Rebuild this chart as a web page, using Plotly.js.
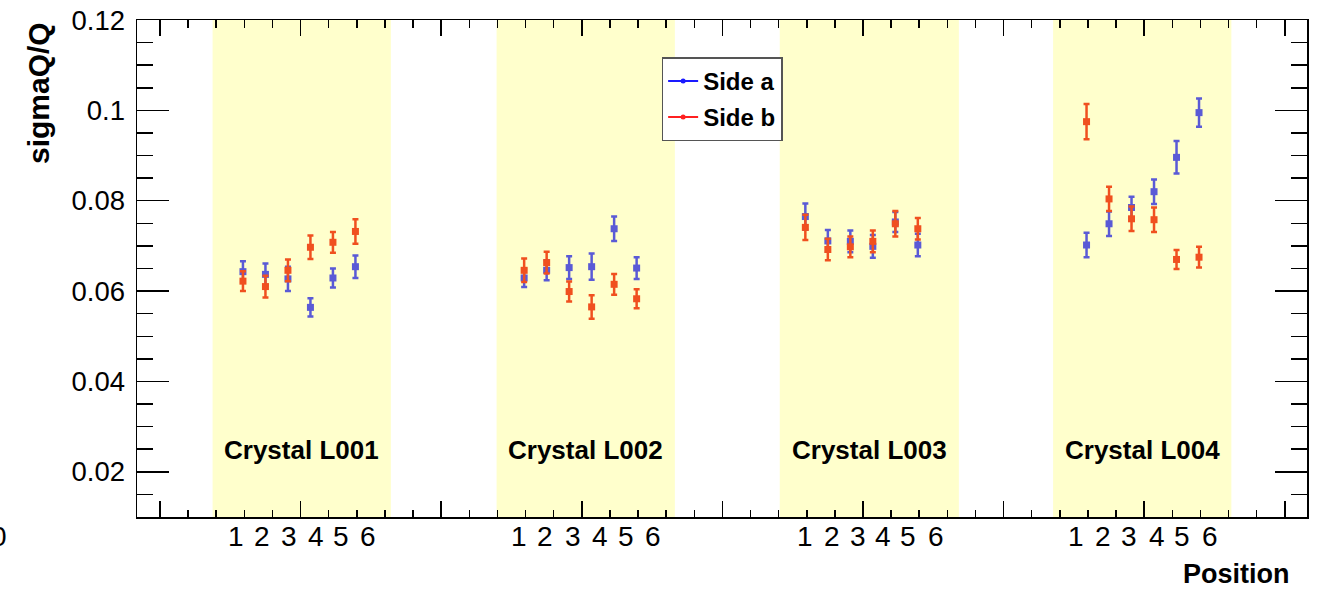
<!DOCTYPE html>
<html>
<head>
<meta charset="utf-8">
<script src="https://cdn.plot.ly/plotly-3.0.1.min.js"></script>
<style>
  html, body { margin: 0; padding: 0; background: #ffffff; }
  #chart { width: 1325px; height: 590px; }
</style>
</head>
<body>
<div id="chart"></div>
<script>
// Relative charge resolution per readout position, four crystals, two sides.
const crystalNames = ['Crystal L001', 'Crystal L002', 'Crystal L003', 'Crystal L004'];
const bandStart = [6.87, 16.97, 27.04, 36.76];
const bandEnd = [13.21, 23.31, 33.41, 43.10];

// x of every measured position (6 per crystal)
const stripX = [
  7.95, 8.75, 9.55, 10.35, 11.15, 11.95,
  17.95, 18.75, 19.55, 20.35, 21.15, 21.95,
  27.95, 28.75, 29.55, 30.35, 31.15, 31.95,
  37.95, 38.75, 39.55, 40.35, 41.15, 41.95
];

const sideA = [
  0.0643, 0.0637, 0.0627, 0.0564, 0.0629, 0.0654,
  0.0629, 0.0646, 0.0652, 0.0654, 0.0738, 0.0651,
  0.0765, 0.0711, 0.0710, 0.0699, 0.0753, 0.0702,
  0.0702, 0.0749, 0.0785, 0.0820, 0.0896, 0.0995
];
const sideAErr = [
  0.0023, 0.0024, 0.0027, 0.0020, 0.0021, 0.0025,
  0.0020, 0.0022, 0.0025, 0.0029, 0.0027, 0.0024,
  0.0029, 0.0024, 0.0024, 0.0025, 0.0022, 0.0025,
  0.0027, 0.0027, 0.0024, 0.0027, 0.0036, 0.0031
];
const sideB = [
  0.0622, 0.0610, 0.0646, 0.0697, 0.0708, 0.0732,
  0.0646, 0.0663, 0.0599, 0.0565, 0.0615, 0.0583,
  0.0741, 0.0692, 0.0698, 0.0710, 0.0749, 0.0738,
  0.0975, 0.0804, 0.0760, 0.0758, 0.0670, 0.0675
];
const sideBErr = [
  0.0022, 0.0024, 0.0024, 0.0026, 0.0023, 0.0027,
  0.0026, 0.0024, 0.0022, 0.0026, 0.0023, 0.0021,
  0.0028, 0.0024, 0.0023, 0.0024, 0.0028, 0.0024,
  0.0039, 0.0027, 0.0027, 0.0027, 0.0021, 0.0023
];

// position numbers printed under each crystal
const positionLabels = ['1', '2', '3', '4', '5', '6'];
const positionLabelX = [
  7.70, 8.64, 9.60, 10.55, 11.43, 12.41,
  17.76, 18.69, 19.70, 20.64, 21.57, 22.52,
  27.93, 28.88, 29.83, 30.72, 31.61, 32.60,
  37.59, 38.52, 39.46, 40.44, 41.36, 42.33
];

const FONT = '"Liberation Sans", Arial, Helvetica, sans-serif';
const colA = '#5a5ad6', colB = '#f0501f';
const legA = '#1a1aff', legB = '#ff2020';

function pointTrace(y, err, color) {
  return {
    x: stripX, y: y, type: 'scatter', mode: 'markers', showlegend: false,
    marker: { symbol: 'square', size: 7, color: color },
    error_y: { type: 'data', array: err, visible: true, color: color, thickness: 2.5, width: 3 },
    hoverinfo: 'x+y'
  };
}
function legendTrace(name, color, group) {
  return {
    x: [null], y: [null], type: 'scatter', mode: 'lines+markers', name: name,
    legendgroup: group,
    line: { color: color, width: 2 },
    marker: { symbol: 'circle', size: 5, color: color }
  };
}

const traces = [
  pointTrace(sideA, sideAErr, colA),
  pointTrace(sideB, sideBErr, colB),
  legendTrace('Side a', legA, 'a'),
  legendTrace('Side b', legB, 'b')
];

const shapes = bandStart.map((s, i) => ({
  type: 'rect', xref: 'x', yref: 'paper', x0: s, x1: bandEnd[i], y0: 0, y1: 1,
  fillcolor: '#ffffcc', line: { width: 0 }, layer: 'below'
}));

const annotations = [];
crystalNames.forEach((name, i) => {
  annotations.push({
    xref: 'x', yref: 'y', x: (bandStart[i] + bandEnd[i]) / 2, y: 0.0248,
    text: name, showarrow: false, xanchor: 'center', yanchor: 'middle',
    font: { family: FONT, size: 26, color: '#000', weight: 'bold' }
  });
});
positionLabelX.forEach((px, i) => {
  annotations.push({
    xref: 'x', yref: 'paper', x: px, y: -0.04,
    text: positionLabels[i % positionLabels.length], showarrow: false,
    xanchor: 'center', yanchor: 'middle',
    font: { family: FONT, size: 28, color: '#000' }
  });
});
annotations.push({
  xref: 'paper', yref: 'paper', x: 0.9867, y: -0.1462, text: 'Position',
  showarrow: false, xanchor: 'right', yanchor: 'bottom', borderpad: 0,
  font: { family: FONT, size: 27, color: '#000', weight: 'bold' }
});
annotations.push({
  xref: 'paper', yref: 'paper', x: -0.0846, y: 1, text: 'sigmaQ/Q', textangle: -90,
  showarrow: false, xanchor: 'center', yanchor: 'top',
  font: { family: FONT, size: 30, color: '#000', weight: 'bold' }
});
annotations.push({
  xref: 'paper', yref: 'paper', x: -0.1094, y: -0.04, text: '0',
  showarrow: false, xanchor: 'right', yanchor: 'middle',
  font: { family: FONT, size: 28, color: '#000' }
});

const layout = {
  width: 1325, height: 590,
  margin: { l: 137, r: 17.7, t: 20, b: 72.7, pad: 0 },
  paper_bgcolor: '#ffffff', plot_bgcolor: '#ffffff',
  font: { family: FONT, color: '#000' },
  showlegend: true,
  legend: {
    x: 0.4484, y: 0.925, xanchor: 'left', yanchor: 'top',
    bgcolor: '#ffffff', bordercolor: '#555555', borderwidth: 1.5,
    font: { family: FONT, size: 24, color: '#000', weight: 'bold' },
    traceorder: 'grouped', tracegroupgap: 2, itemwidth: 30
  },
  xaxis: {
    range: [4.182, 45.79], tick0: 0, dtick: 5, showgrid: false, zeroline: false,
    showline: true, linecolor: '#000', linewidth: 1.5, mirror: 'ticks',
    ticks: 'inside', ticklen: 15.6, tickwidth: 1.5, tickcolor: '#000',
    showticklabels: false,
    minor: { dtick: 1, ticks: 'inside', ticklen: 7.5, tickwidth: 1.5, tickcolor: '#000', showgrid: false }
  },
  yaxis: {
    range: [0.01, 0.12], tick0: 0, dtick: 0.02, showgrid: false, zeroline: false,
    showline: true, linecolor: '#000', linewidth: 1.5, mirror: 'ticks',
    ticks: 'inside', ticklen: 32, tickwidth: 1.5, tickcolor: '#000',
    ticklabelstandoff: 5,
    tickfont: { family: FONT, size: 27.5, color: '#000' },
    minor: { dtick: 0.005, ticks: 'inside', ticklen: 16, tickwidth: 1.5, tickcolor: '#000', showgrid: false }
  },
  shapes: shapes,
  annotations: annotations
};

Plotly.newPlot('chart', traces, layout, { displayModeBar: false, staticPlot: true });
</script>
</body>
</html>
